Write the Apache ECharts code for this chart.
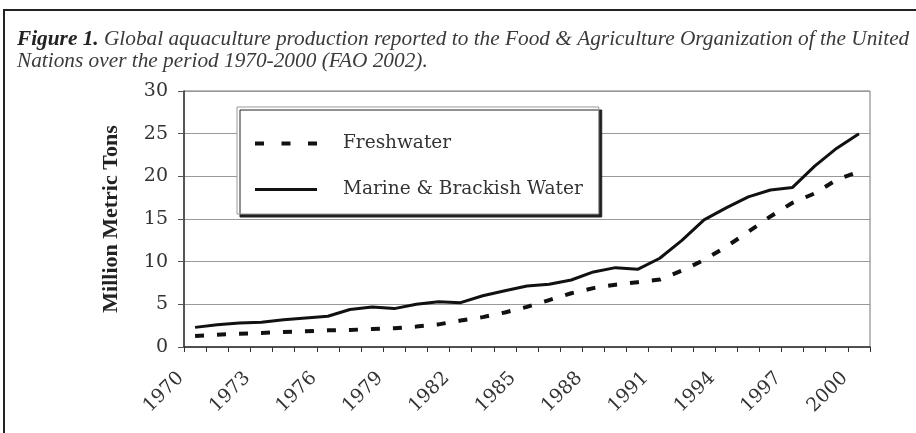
<!DOCTYPE html>
<html>
<head>
<meta charset="utf-8">
<script src="https://cdn.jsdelivr.net/npm/echarts@6/dist/echarts.min.js"></script>
<style>html,body{margin:0;padding:0;background:#fff;}#c{width:916px;height:433px;}</style>
</head>
<body>
<div id="c"></div>
<script>
var years = ['1970','1971','1972','1973','1974','1975','1976','1977','1978','1979','1980','1981','1982','1983','1984','1985','1986','1987','1988','1989','1990','1991','1992','1993','1994','1995','1996','1997','1998','1999','2000'];
var freshwater = [1.3,1.45,1.55,1.65,1.75,1.85,1.95,2.0,2.1,2.2,2.4,2.65,3.1,3.5,4.05,4.7,5.5,6.3,6.9,7.3,7.6,7.9,8.95,10.2,11.75,13.5,15.3,16.9,18.0,19.6,20.55];
var marine = [2.3,2.6,2.8,2.9,3.2,3.4,3.6,4.4,4.7,4.5,5.0,5.3,5.2,6.0,6.6,7.15,7.35,7.85,8.8,9.3,9.1,10.4,12.5,14.9,16.3,17.6,18.4,18.7,21.2,23.3,25.0];
var seriesNames = ['Freshwater','Marine & Brackish Water'];
var yTitle = 'Million Metric Tons';
var titleLine1a = 'Figure 1.';
var titleLine1b = ' Global aquaculture production reported to the Food & Agriculture Organization of the United';
var titleLine2 = 'Nations over the period 1970-2000 (FAO 2002).';

var serif = "Liberation Serif";
var wide = "DejaVu Serif";
var chart = echarts.init(document.getElementById('c'), null, {renderer: 'canvas'});
chart.setOption({
  animation: false,
  backgroundColor: '#fff',
  title: {
    left: 12, top: 23,
    text: '{b|' + titleLine1a + '}{i|' + titleLine1b + '}\n{i|' + titleLine2 + '}',
    textStyle: {
      fontFamily: serif,
      fontWeight: 'normal',
      rich: {
        b: {fontFamily: serif, fontStyle: 'italic', fontWeight: 'bold', fontSize: 21.3, color: '#222', lineHeight: 22},
        i: {fontFamily: serif, fontStyle: 'italic', fontWeight: 'normal', fontSize: 21.3, color: '#3a3a3a', lineHeight: 22}
      }
    }
  },
  graphic: [
    {type: 'line', shape: {x1: 3, y1: 10, x2: 916, y2: 10}, style: {stroke: '#222', lineWidth: 2}},
    {type: 'line', shape: {x1: 4, y1: 10, x2: 4, y2: 433}, style: {stroke: '#222', lineWidth: 2}}
  ],
  legend: {
    orient: 'vertical',
    left: 237, top: 107,
    padding: [27, 16, 15, 16],
    itemWidth: 62, itemHeight: 14,
    itemGap: 27,
    backgroundColor: '#fff',
    borderColor: '#999', borderWidth: 1,
    shadowColor: '#222', shadowOffsetX: 3, shadowOffsetY: 3, shadowBlur: 0,
    itemStyle: {opacity: 0},
    textStyle: {fontFamily: wide, fontSize: 18.5, color: '#333', padding: [0, 0, 0, 21]},
    data: [
      {name: seriesNames[0], itemStyle: {opacity: 0}, lineStyle: {type: [9, 17.5], width: 4, color: '#111'}},
      {name: seriesNames[1], itemStyle: {opacity: 0}, lineStyle: {width: 3, color: '#111'}}
    ]
  },
  grid: {left: 184, top: 91, right: 46, bottom: 86, show: true, borderColor: '#777', borderWidth: 1},
  xAxis: {
    type: 'category',
    data: years,
    boundaryGap: true,
    axisLine: {lineStyle: {color: '#333', width: 1.5}},
    axisTick: {show: true, interval: 0, length: 5, lineStyle: {color: '#333'}},
    axisLabel: {interval: 2, rotate: 45, margin: 14, padding: [0, 20, 0, 0], fontFamily: wide, fontSize: 19, color: '#333'},
    splitLine: {show: false}
  },
  yAxis: {
    type: 'value',
    min: 0, max: 30, interval: 5,
    name: yTitle,
    nameLocation: 'middle',
    nameRotate: 90,
    nameGap: 62,
    nameTextStyle: {fontFamily: serif, fontWeight: 'bold', fontSize: 22, color: '#222'},
    axisLine: {show: true, lineStyle: {color: '#333', width: 1.5}},
    axisTick: {show: true, length: 6, lineStyle: {color: '#555'}},
    axisLabel: {margin: 16, fontFamily: wide, fontSize: 19, color: '#333'},
    splitLine: {show: true, lineStyle: {color: '#999', width: 1}}
  },
  series: [
    {name: seriesNames[0], type: 'line', data: freshwater, symbol: 'none', lineStyle: {type: [9, 13], width: 4, color: '#111'}, itemStyle: {color: '#111'}},
    {name: seriesNames[1], type: 'line', data: marine, symbol: 'none', lineStyle: {width: 3, color: '#111'}, itemStyle: {color: '#111'}}
  ]
});
</script>
</body>
</html>
